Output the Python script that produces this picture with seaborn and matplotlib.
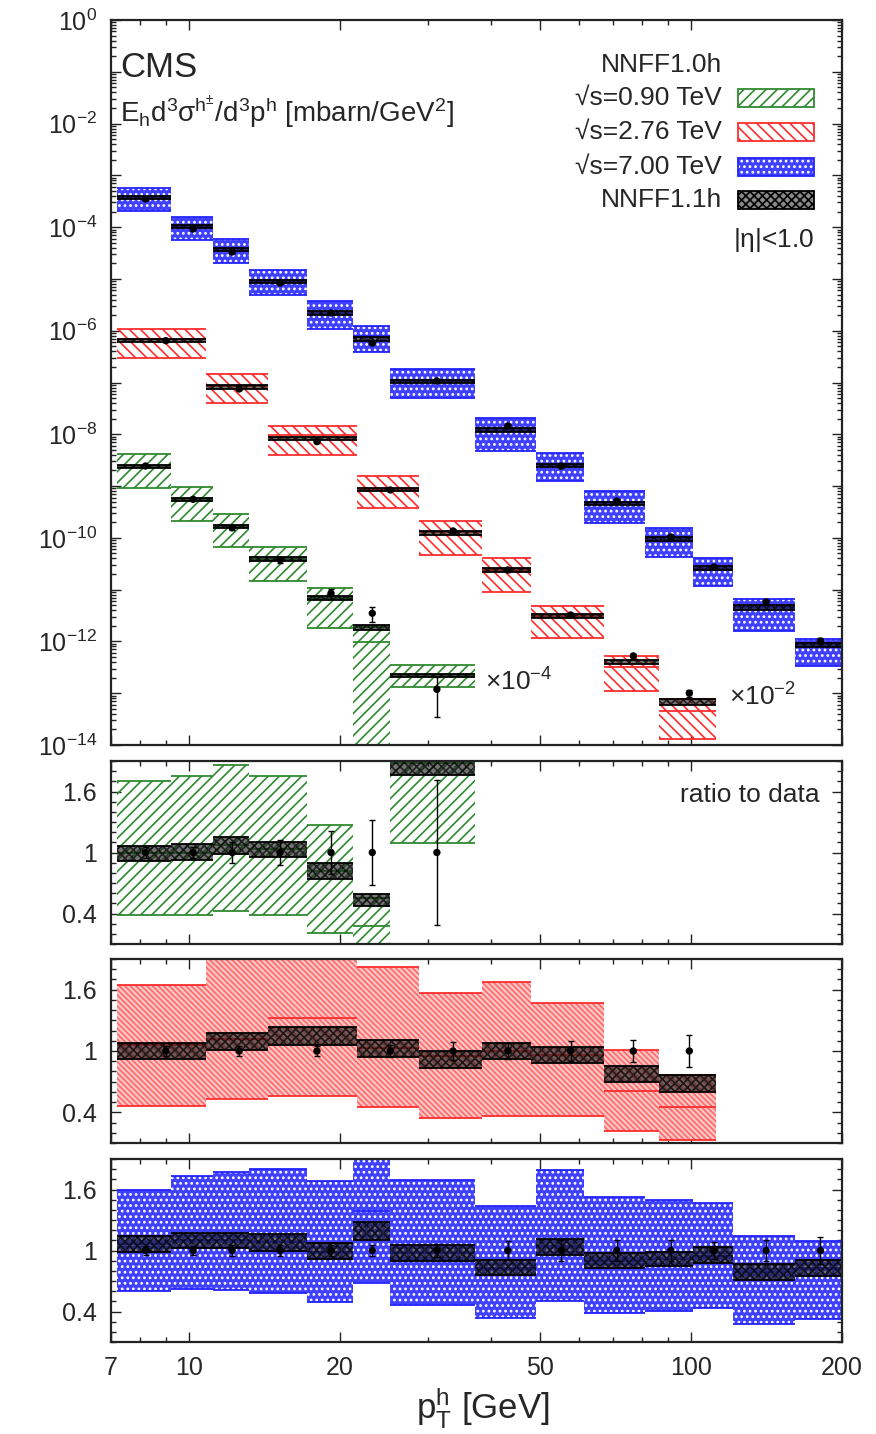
import numpy as np
import matplotlib
matplotlib.use('Agg')
import matplotlib.pyplot as plt
import matplotlib.ticker as mticker
from matplotlib.patches import Rectangle
import seaborn as sns

# bin edges in pT [GeV]
edges_090 = [7.2, 9.2, 11.2, 13.2, 17.2, 21.2, 25.2, 37.2]
edges_276 = [7.2, 10.8, 14.4, 21.6, 28.8, 38.4, 48.0, 67.2, 86.4, 112.2]
edges_700 = [7.2, 9.2, 11.2, 13.2, 17.2, 21.2, 25.2, 37.2, 49.2, 61.2, 81.2, 101.2, 121.2, 161.2, 201.2]

# data points: pT, cross section [mbarn/GeV^2], relative error
pt_090 = [8.2, 10.2, 12.2, 15.2, 19.2, 23.2, 31.2]
xs_090 = [2.44e-5, 5.56e-6, 1.57e-6, 3.79e-7, 8.5e-8, 3.5e-8, 1.19e-9]
err_090 = [0.05, 0.05, 0.10, 0.12, 0.21, 0.32, 0.71]

pt_276 = [9.0, 12.6, 18.0, 25.2, 33.6, 43.2, 57.6, 76.8, 99.3]
xs_276 = [6.43e-5, 7.50e-6, 7.21e-7, 8.41e-8, 1.36e-8, 2.40e-9, 3.24e-10, 5.25e-11, 1.0e-11]
err_276 = [0.05, 0.05, 0.05, 0.06, 0.09, 0.08, 0.10, 0.11, 0.16]

pt_700 = [8.2, 10.2, 12.2, 15.2, 19.2, 23.2, 31.2, 43.2, 55.2, 71.2, 91.2, 111.2, 141.2, 181.2]
xs_700 = [3.50e-4, 9.23e-5, 3.31e-5, 8.36e-6, 2.20e-6, 5.79e-7, 1.07e-7, 1.45e-8, 2.44e-9,
          5.15e-10, 1.04e-10, 2.74e-11, 5.78e-12, 1.02e-12]
err_700 = [0.04, 0.04, 0.05, 0.05, 0.05, 0.05, 0.06, 0.09, 0.10, 0.10, 0.10, 0.08, 0.10, 0.13]

# NNFF1.0h / data (lower, central, upper)
nn10_lo_090 = [0.384, 0.384, 0.426, 0.384, 0.213, 0.002, 1.09]
nn10_mid_090 = [1.0, 1.0, 1.07, 1.03, 0.82, 0.28, 1.88]
nn10_hi_090 = [1.705, 1.754, 1.859, 1.754, 1.269, 0.55, 2.9]

nn10_lo_276 = [0.466, 0.531, 0.557, 0.449, 0.341, 0.367, 0.367, 0.213, 0.13]
nn10_mid_276 = [1.056, 1.12, 1.318, 1.03, 0.951, 1.0, 0.96, 0.613, 0.449]
nn10_hi_276 = [1.646, 1.95, 2.01, 1.82, 1.564, 1.672, 1.466, 1.013, 0.761]

nn10_lo_700 = [0.597, 0.623, 0.613, 0.580, 0.498, 0.679, 0.466, 0.334, 0.508, 0.384, 0.407, 0.433, 0.279, 0.328]
nn10_mid_700 = [1.06, 1.10, 1.10, 1.08, 0.99, 1.384, 0.98, 0.83, 1.04, 0.90, 0.92, 0.95, 0.79, 0.83]
nn10_hi_700 = [1.597, 1.728, 1.777, 1.803, 1.679, 2.1, 1.695, 1.433, 1.793, 1.531, 1.498, 1.472, 1.138, 1.095]

# NNFF1.1h / data (lower, upper)
nn11_lo_090 = [0.918, 0.928, 0.984, 0.951, 0.744, 0.475, 1.76]
nn11_hi_090 = [1.066, 1.082, 1.148, 1.105, 0.895, 0.590, 1.96]
nn11_lo_276 = [0.925, 1.013, 1.056, 0.941, 0.833, 0.925, 0.882, 0.695, 0.603]
nn11_hi_276 = [1.082, 1.18, 1.236, 1.105, 0.997, 1.082, 1.039, 0.852, 0.767]
nn11_lo_700 = [0.984, 1.023, 1.023, 1.0, 0.918, 1.105, 0.898, 0.761, 0.957, 0.826, 0.843, 0.875, 0.711, 0.754]
nn11_hi_700 = [1.138, 1.177, 1.177, 1.16, 1.072, 1.285, 1.056, 0.908, 1.115, 0.974, 0.99, 1.03, 0.866, 0.908]

scales = {'090': 1e-4, '276': 1e-2, '700': 1.0}
energies = {'090': '0.90', '276': '2.76', '700': '7.00'}

series = {
    '090': dict(edges=edges_090, pt=pt_090, xs=xs_090, err=err_090,
                lo=nn10_lo_090, mid=nn10_mid_090, hi=nn10_hi_090, lo11=nn11_lo_090, hi11=nn11_hi_090),
    '276': dict(edges=edges_276, pt=pt_276, xs=xs_276, err=err_276,
                lo=nn10_lo_276, mid=nn10_mid_276, hi=nn10_hi_276, lo11=nn11_lo_276, hi11=nn11_hi_276),
    '700': dict(edges=edges_700, pt=pt_700, xs=xs_700, err=err_700,
                lo=nn10_lo_700, mid=nn10_mid_700, hi=nn10_hi_700, lo11=nn11_lo_700, hi11=nn11_hi_700),
}
# line colour, hatch colour, hatch, face colour
styles = {
    '090': dict(color='#2f8a2f', hcol='#2f8a2f', hatch='///', face='none'),
    '276': dict(color='#ff2d2d', hcol='#ff2d2d', hatch='\\\\\\', face='none'),
    '700': dict(color='#2323ff', hcol='white', hatch='...', face='#4040ff'),
}

sns.set_theme(style='ticks')
plt.rcParams['font.family'] = ['Liberation Sans', 'DejaVu Sans']
plt.rcParams['mathtext.fontset'] = 'custom'
plt.rcParams['mathtext.rm'] = 'Liberation Sans'
plt.rcParams['mathtext.it'] = 'Liberation Sans:italic'
plt.rcParams['mathtext.default'] = 'regular'
plt.rcParams['hatch.linewidth'] = 1.2

W, H = 876, 1434
fig = plt.figure(figsize=(W / 100, H / 100), dpi=100)


def frame(top, bottom):
    return [111 / W, 1 - bottom / H, 731 / W, (bottom - top) / H]


def fx(x):
    return x / W


def fy(y):
    return 1 - y / H


ax0 = fig.add_axes(frame(20, 745))
axr = [fig.add_axes(frame(761, 944)), fig.add_axes(frame(959, 1143)), fig.add_axes(frame(1159, 1342))]


def draw_band(ax, edges, lo, hi, mid, color, hcol, hatch, face, z=2):
    e0 = np.array(edges[:-1])
    e1 = np.array(edges[1:])
    lo = np.asarray(lo)
    hi = np.asarray(hi)
    ax.bar(e0, hi - lo, width=e1 - e0, bottom=lo, align='edge', facecolor=face,
           edgecolor=hcol, hatch=hatch, linewidth=0, zorder=z)
    ax.hlines(lo, e0, e1, color=color, lw=1.3, zorder=z + 0.5)
    ax.hlines(hi, e0, e1, color=color, lw=1.3, zorder=z + 0.5)
    if mid is not None:
        ax.hlines(mid, e0, e1, color=color, lw=1.3, zorder=z + 0.5)


nn11_face = (0.12, 0.12, 0.12, 0.62)
nn11_hatch_col = (0, 0, 0, 0.7)

# top panel: cross sections
for key, s in series.items():
    st = styles[key]
    data = np.array(s['xs']) * scales[key]
    draw_band(ax0, s['edges'], data * np.array(s['lo']), data * np.array(s['hi']),
              data * np.array(s['mid']), st['color'], st['hcol'], st['hatch'], st['face'])
    draw_band(ax0, s['edges'], data * np.array(s['lo11']), data * np.array(s['hi11']),
              None, 'black', nn11_hatch_col, 'xxxx', nn11_face, z=4)
    ax0.errorbar(s['pt'], data, yerr=data * np.array(s['err']), fmt='none', ecolor='black',
                 elinewidth=1, capsize=2.5, capthick=1, zorder=6)
    sns.scatterplot(x=s['pt'], y=data, ax=ax0, color='black', s=28, edgecolor='none',
                    zorder=7, legend=False)

# ratio panels
for ax, key in zip(axr, ['090', '276', '700']):
    s = series[key]
    st = styles[key]
    face, hatch, hcol = st['face'], st['hatch'], st['hcol']
    if key == '276':
        face, hatch, hcol = '#fbc6c6', '\\\\\\\\\\\\', '#ff6a6a'
    draw_band(ax, s['edges'], s['lo'], s['hi'], s['mid'], st['color'], hcol, hatch, face)
    draw_band(ax, s['edges'], s['lo11'], s['hi11'], None, 'black', nn11_hatch_col, 'xxxx', nn11_face, z=4)
    ones = np.ones(len(s['pt']))
    ax.errorbar(s['pt'], ones, yerr=s['err'], fmt='none', ecolor='black',
                elinewidth=1, capsize=2.5, capthick=1, zorder=6)
    sns.scatterplot(x=s['pt'], y=ones, ax=ax, color='black', s=28, edgecolor='none',
                    zorder=7, legend=False)

# axes cosmetics
for ax in [ax0] + axr:
    ax.set_xscale('log')
    ax.set_xlim(7, 200)
    ax.xaxis.set_major_locator(mticker.FixedLocator([7, 10, 20, 50, 100, 200]))
    ax.xaxis.set_major_formatter(mticker.FixedFormatter(['7', '10', '20', '50', '100', '200']))
    ax.xaxis.set_minor_locator(mticker.LogLocator(base=10, subs=np.arange(2, 10), numticks=20))
    ax.xaxis.set_minor_formatter(mticker.NullFormatter())
    ax.tick_params(which='both', direction='in', top=True, right=True, labelsize=18,
                   color='#222222', width=1, pad=10)
    ax.tick_params(which='major', length=7)
    ax.tick_params(which='minor', length=3.5)
    for sp in ax.spines.values():
        sp.set_linewidth(1.6)
        sp.set_color('#222222')
        sp.set_zorder(10)
    ax.set_xlabel('')
    ax.set_ylabel('')
    if ax is not axr[-1]:
        ax.tick_params(labelbottom=False)

ax0.set_yscale('log')
ax0.set_ylim(1e-14, 1)
ax0.yaxis.set_major_locator(mticker.LogLocator(base=10, numticks=30))
ax0.yaxis.set_major_formatter(mticker.FuncFormatter(
    lambda v, p: '$10^{%d}$' % round(np.log10(v)) if round(np.log10(v)) % 2 == 0 else ''))
ax0.yaxis.set_minor_locator(mticker.LogLocator(base=10, subs=np.arange(2, 10), numticks=30))
ax0.yaxis.set_minor_formatter(mticker.NullFormatter())

for ax in axr:
    ax.set_ylim(0.1, 1.9)
    ax.yaxis.set_major_locator(mticker.FixedLocator([0.4, 1.0, 1.6]))
    ax.yaxis.set_major_formatter(mticker.FixedFormatter(['0.4', '1', '1.6']))
    ax.yaxis.set_minor_locator(mticker.MultipleLocator(0.1))

# texts
fig.text(fx(120), fy(77), 'CMS', fontsize=25, va='baseline', ha='left')
fig.text(fx(120), fy(122), r'E$_h$d$^3\sigma^{h^{\pm}}$/d$^3$p$^h$ [mbarn/GeV$^2$]',
         fontsize=20, va='baseline', ha='left')
fig.text(fx(485), fy(682), r'$\times$10$^{-4}$', fontsize=19, va='center', ha='left')
fig.text(fx(729), fy(697), r'$\times$10$^{-2}$', fontsize=19, va='center', ha='left')
fig.text(fx(820), fy(795), 'ratio to data', fontsize=19, va='center', ha='right')
fig.text(fx(483), fy(1408), r'p$_T^h$ [GeV]', fontsize=25, va='center', ha='center')

# legend
rows = [65, 98, 132, 167, 200]
fig.text(fx(722), fy(rows[0]), 'NNFF1.0h', fontsize=19, va='center', ha='right')
for yrow, key in zip(rows[1:4], ['090', '276', '700']):
    st = styles[key]
    fig.text(fx(722), fy(yrow), '\u221as=%s TeV' % energies[key], fontsize=19, va='center', ha='right')
    face = 'white' if st['face'] == 'none' else st['face']
    fig.patches.append(Rectangle((fx(738), fy(yrow + 9)), fx(76), 18 / H, transform=fig.transFigure,
                                 facecolor=face, edgecolor=st['hcol'], hatch=st['hatch'], lw=0))
    fig.patches.append(Rectangle((fx(738), fy(yrow + 9)), fx(76), 18 / H, transform=fig.transFigure,
                                 facecolor='none', edgecolor=st['color'], lw=1.3))
fig.text(fx(722), fy(rows[4]), 'NNFF1.1h', fontsize=19, va='center', ha='right')
fig.patches.append(Rectangle((fx(738), fy(rows[4] + 9)), fx(76), 18 / H, transform=fig.transFigure,
                             facecolor='#8a8a8a', edgecolor='black', hatch='xxxx', lw=1.3))
fig.text(fx(814), fy(240), r'|$\eta$|<1.0', fontsize=19, va='center', ha='right')

fig.savefig('out.png', dpi=100)
